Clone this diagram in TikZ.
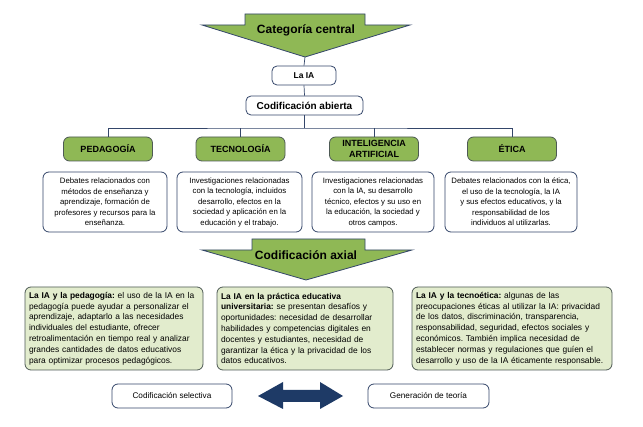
\documentclass[tikz,border=0pt]{standalone}
\usepackage{fontspec}
\setmainfont{Liberation Sans}
\frenchspacing
\definecolor{gfill}{HTML}{8FB855}
\definecolor{lgfill}{HTML}{E2ECCD}
\definecolor{navy}{HTML}{34466A}
\definecolor{axb}{HTML}{4E5A55}
\definecolor{darr}{HTML}{1E3A66}
\begin{document}
\begin{tikzpicture}[x=1pt,y=-1pt,
  bigarrow/.style={fill=gfill,draw=navy,line width=0.8pt},
  wbox/.style={draw=navy,line width=0.8pt,fill=white,rounded corners=5pt,inner sep=2pt,font=\bfseries\fontsize{8.5}{10}\selectfont},
  catbox/.style={draw=axb,line width=0.8pt,fill=gfill,rounded corners=6pt,minimum width=89pt,minimum height=24pt,inner sep=1pt,align=center,font=\bfseries\fontsize{9}{10.5}\selectfont},
  descbox/.style={draw=navy,line width=0.8pt,fill=white,rounded corners=6pt,minimum height=60pt,inner sep=1pt,align=center,font=\fontsize{7.8}{10.5}\selectfont},
  axbox/.style={draw=axb,line width=0.8pt,fill=lgfill,rounded corners=6pt,minimum height=83pt,inner sep=4pt,align=left,font=\fontsize{8.4}{10.8}\selectfont},
  botbox/.style={draw=navy,line width=0.8pt,fill=white,rounded corners=6pt,minimum height=24pt,inner sep=1pt,font=\fontsize{8.2}{9}\selectfont},
  conn/.style={draw=navy,line width=0.7pt}
]
\useasboundingbox (0,0) rectangle (643,427);
\fill[white] (0,0) rectangle (643,427);

% Categoria central arrow
\draw[bigarrow] (245,14) -- (365,14) -- (365,25) -- (410,25) -- (305,57) -- (202,25) -- (245,25) -- cycle;
\node[font=\bfseries\fontsize{12}{14}\selectfont] (cat) at (306,30) {Categoría central};
\coordinate (cattip) at (305,57);

\node[wbox,minimum width=64pt,minimum height=19pt] (ia) at (304,75.5) {La IA};
\node[wbox,minimum width=117pt,minimum height=19pt,font=\bfseries\fontsize{10}{11}\selectfont] (abierta) at (304.5,105.5) {Codificación abierta};

\node[catbox] (ped) at (108,149) {PEDAGOGÍA};
\node[catbox] (tec) at (240.5,149) {TECNOLOGÍA};
\node[catbox] (int) at (374,149) {INTELIGENCIA\\ARTIFICIAL};
\node[catbox] (eti) at (512,149) {ÉTICA};

\coordinate (bar) at (304.5,128);
\draw[conn] (cattip) -- (ia.north);
\draw[conn] (ia.south) -- (abierta.north);
\draw[conn] (abierta.south) -- (bar);
\draw[conn] (ped.north) |- (bar) -| (eti.north);
\draw[conn] (tec.north) -- (tec.north |- bar);
\draw[conn] (int.north) -- (int.north |- bar);

\node[descbox,minimum width=124pt] (dped) at (105,202) {Debates relacionados con\\métodos de enseñanza y\\aprendizaje, formación de\\profesores y recursos para la\\enseñanza.};
\node[descbox,minimum width=125pt] (dtec) at (239.5,202) {Investigaciones relacionadas\\con la tecnología, incluidos\\desarrollo, efectos en la\\sociedad y  aplicación en la\\educación y el trabajo.};
\node[descbox,minimum width=122pt] (dint) at (373,202) {Investigaciones relacionadas\\con la IA, su desarrollo\\técnico, efectos y su uso en\\la educación, la sociedad y\\otros campos.};
\node[descbox,minimum width=132pt] (deti) at (511,202) {Debates relacionados con la ética,\\el uso de la tecnología, la IA\\y sus efectos educativos, y la\\responsabilidad de los\\individuos al utilizarlas.};

% Codificacion axial arrow
\draw[bigarrow] (252,239) -- (365,239) -- (365,250) -- (412,250) -- (306,280) -- (202,250) -- (252,250) -- cycle;
\node[font=\bfseries\fontsize{12}{14}\selectfont] (axial) at (306,255) {Codificación axial};

\node[axbox,minimum width=178pt,text width=170pt] (ax1) at (114,328.5) {\textbf{La IA y la pedagogía:} el uso de la IA en la\\pedagogía puede ayudar a personalizar el\\aprendizaje, adaptarlo a las necesidades\\individuales del estudiante, ofrecer\\retroalimentación en tiempo real y analizar\\grandes cantidades de datos educativos\\para optimizar procesos pedagógicos.};
\node[axbox,minimum width=176pt,text width=168pt] (ax2) at (305,328.5) {\textbf{La IA en la práctica educativa}\\\textbf{universitaria:} se presentan desafíos y\\oportunidades: necesidad de desarrollar\\habilidades y competencias digitales en\\docentes y estudiantes, necesidad de\\garantizar la ética y la privacidad de los\\datos educativos.};
\node[axbox,minimum width=200pt,text width=192pt] (ax3) at (512,328.5) {\textbf{La IA y la tecnoética:} algunas de las\\preocupaciones éticas al utilizar la IA: privacidad\\de los datos, discriminación, transparencia,\\responsabilidad, seguridad, efectos sociales y\\económicos. También implica necesidad de\\establecer normas y regulaciones que guíen el\\desarrollo y uso de la IA éticamente responsable.};

% Bottom
\node[botbox,minimum width=120pt] (sel) at (172,396) {Codificación selectiva};
\node[botbox,minimum width=121pt] (teo) at (428.5,396) {Generación de teoría};
\fill[darr] (258,396) -- (283,382) -- (283,390) -- (320,390) -- (320,382) -- (343,396) -- (320,409) -- (320,402) -- (283,402) -- (283,409) -- cycle;
\end{tikzpicture}
\end{document}
